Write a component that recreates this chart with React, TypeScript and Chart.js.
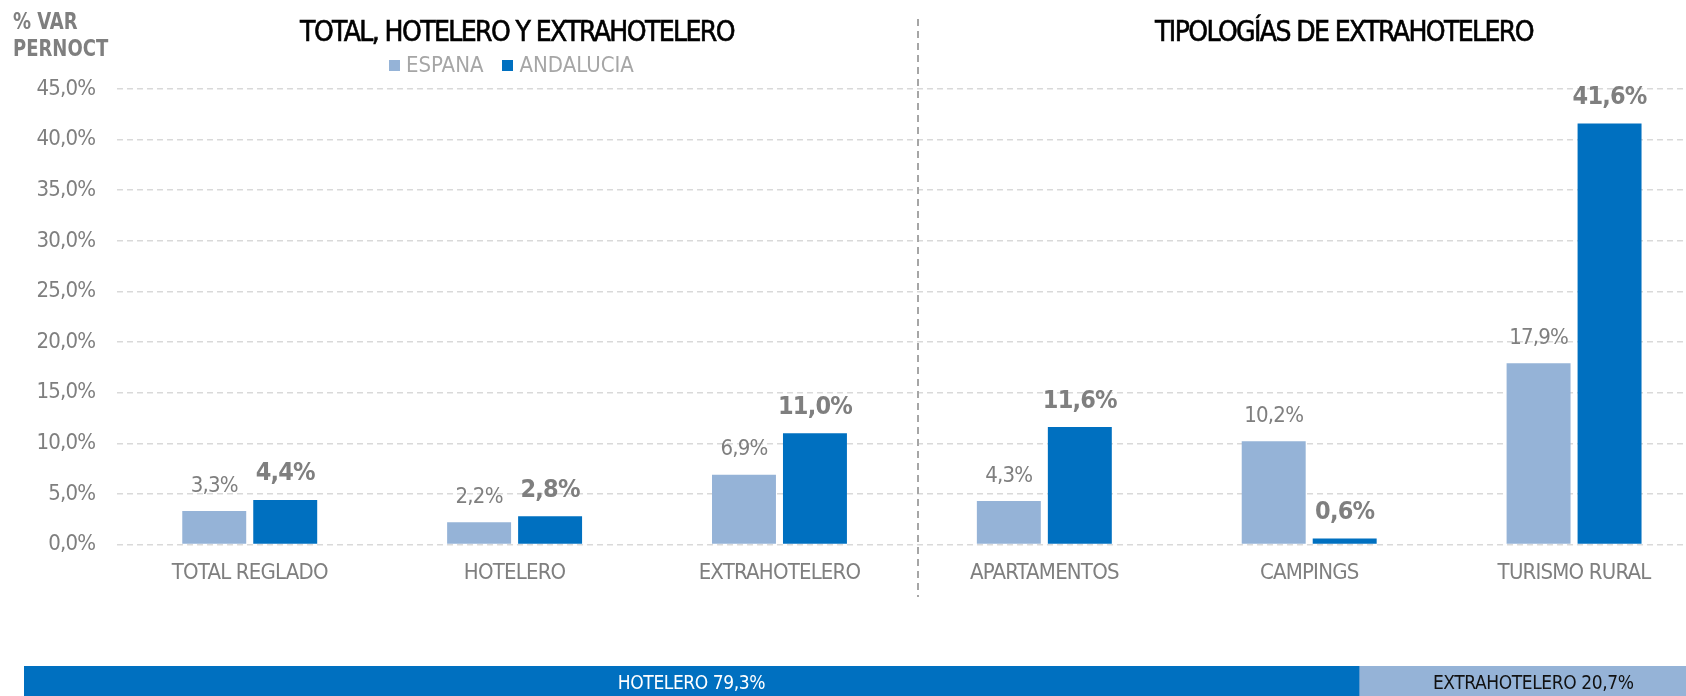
import React, { useEffect, useRef } from "react";
import { Chart, registerables } from "chart.js";

Chart.register(...registerables);

const categories = ["TOTAL REGLADO", "HOTELERO", "EXTRAHOTELERO", "APARTAMENTOS", "CAMPINGS", "TURISMO RURAL"];
const espana = [3.3, 2.2, 6.9, 4.3, 10.2, 17.9];
const andalucia = [4.4, 2.8, 11.0, 11.6, 0.6, 41.6];
const seriesNames = ["ESPANA", "ANDALUCIA"];
const yMin = 0;
const yMax = 45;
const yStep = 5;
const shareLabels = ["HOTELERO", "EXTRAHOTELERO"];
const shareValues = [79.3, 20.7];

const LIGHT = "#95B3D7";
const DARK = "#0070C0";
const GRAY = "#7F7F7F";
const NARROW = "'Liberation Sans Narrow', 'DejaVu Sans Condensed', 'Arial Narrow', sans-serif";

const fmt = (v: number) => v.toFixed(1).replace(".", ",") + "%";

const tightText = {
  id: "tightText",
  beforeDraw(chart: any) {
    (chart.ctx as any).letterSpacing = "-0.8px";
  },
  afterDraw(chart: any) {
    (chart.ctx as any).letterSpacing = "0px";
  },
};

const valueLabels = {
  id: "valueLabels",
  afterDatasetsDraw(chart: any) {
    const ctx = chart.ctx;
    ctx.save();
    ctx.textAlign = "center";
    ctx.textBaseline = "middle";
    chart.data.datasets.forEach((ds: any, di: number) => {
      const meta = chart.getDatasetMeta(di);
      ctx.font = di === 1 ? "bold 25px " + NARROW : "22px " + NARROW;
      ctx.fillStyle = GRAY;
      meta.data.forEach((el: any, i: number) => {
        ctx.fillText(fmt(ds.data[i]), el.x, el.y - (di === 1 ? 26 : 25));
      });
    });
    ctx.restore();
  },
};

const divider = {
  id: "divider",
  beforeDatasetsDraw(chart: any) {
    const ctx = chart.ctx;
    ctx.save();
    ctx.strokeStyle = "#A6A6A6";
    ctx.lineWidth = 2;
    ctx.setLineDash([7, 5]);
    ctx.beginPath();
    ctx.moveTo(918, 19);
    ctx.lineTo(918, 597);
    ctx.stroke();
    ctx.restore();
  },
};

const shareText = {
  id: "shareText",
  afterDatasetsDraw(chart: any) {
    const ctx = chart.ctx;
    ctx.save();
    (ctx as any).letterSpacing = "-0.4px";
    ctx.textAlign = "center";
    ctx.textBaseline = "middle";
    ctx.font = "19px " + NARROW;
    chart.data.datasets.forEach((ds: any, di: number) => {
      const el = chart.getDatasetMeta(di).data[0];
      ctx.fillStyle = di === 0 ? "#FFFFFF" : "#111111";
      ctx.fillText(ds.label + " " + fmt(ds.data[0]), (el.x + el.base) / 2, 18);
    });
    (ctx as any).letterSpacing = "0px";
    ctx.restore();
  },
};

export default function App() {
  const mainRef = useRef<HTMLCanvasElement>(null);
  const shareRef = useRef<HTMLCanvasElement>(null);

  useEffect(() => {
    document.body.style.margin = "0";
    const c1 = new Chart(mainRef.current!, {
      type: "bar",
      data: {
        labels: categories,
        datasets: [
          { label: seriesNames[0], data: espana, backgroundColor: LIGHT, categoryPercentage: 0.536, barPercentage: 0.901 },
          { label: seriesNames[1], data: andalucia, backgroundColor: DARK, categoryPercentage: 0.536, barPercentage: 0.901 },
        ],
      },
      options: {
        animation: false,
        responsive: false,
        devicePixelRatio: 1,
        layout: { padding: { left: 0, right: 23.5, top: 89, bottom: 0 } },
        plugins: { legend: { display: false }, tooltip: { enabled: false } },
        scales: {
          x: {
            grid: { display: false, drawTicks: false },
            border: { display: false },
            ticks: { color: GRAY, font: { family: NARROW, size: 22 }, padding: 16, maxRotation: 0, autoSkip: false },
            afterFit: (s: any) => { s.height = 75.5; },
          },
          y: {
            min: yMin,
            max: yMax,
            grid: { color: "#D9D9D9", lineWidth: 1.5, drawTicks: false },
            border: { display: false, dash: [6, 4] },
            ticks: { stepSize: yStep, color: GRAY, font: { family: NARROW, size: 22 }, padding: 22, callback: (v: any) => fmt(Number(v)) },
            afterFit: (s: any) => { s.width = 117.3; },
          },
        },
      },
      plugins: [tightText, divider, valueLabels],
    });
    const c2 = new Chart(shareRef.current!, {
      type: "bar",
      data: {
        labels: [""],
        datasets: [
          { label: shareLabels[0], data: [shareValues[0]], backgroundColor: DARK, barPercentage: 1, categoryPercentage: 1 },
          { label: shareLabels[1], data: [shareValues[1]], backgroundColor: LIGHT, barPercentage: 1, categoryPercentage: 1 },
        ],
      },
      options: {
        indexAxis: "y",
        animation: false,
        responsive: false,
        devicePixelRatio: 1,
        layout: { padding: { left: 24, right: 22.5, top: 0, bottom: 0 } },
        plugins: { legend: { display: false }, tooltip: { enabled: false } },
        scales: {
          x: { stacked: true, min: 0, max: 100, display: false },
          y: { stacked: true, display: false },
        },
      },
      plugins: [shareText],
    });
    return () => { c1.destroy(); c2.destroy(); };
  }, []);

  const titleStyle: React.CSSProperties = {
    position: "absolute", top: 16, transform: "translateX(-50%)", whiteSpace: "nowrap",
    fontFamily: "'DejaVu Sans Condensed', sans-serif", fontSize: 28, color: "#000", letterSpacing: -1.6, lineHeight: "32px",
    WebkitTextStroke: "0.6px #000",
  };
  const legendText: React.CSSProperties = { fontFamily: NARROW, fontSize: 22, color: "#A6A6A6" };

  return (
    <div style={{ position: "relative", width: 1686, height: 696, overflow: "hidden", background: "#fff" }}>
      <canvas ref={mainRef} width={1730} height={620} style={{ position: "absolute", left: 0, top: 0 }} />
      <canvas ref={shareRef} width={1730} height={40} style={{ position: "absolute", left: 0, top: 666 }} />
      <div style={{ position: "absolute", left: 13, top: 8, fontFamily: NARROW, fontWeight: "bold", fontSize: 23, color: GRAY, lineHeight: "27px", transform: "scaleX(0.87)", transformOrigin: "left top", whiteSpace: "nowrap" }}>
        % VAR<br />PERNOCT
      </div>
      <div style={{ ...titleStyle, left: 517 }}>TOTAL, HOTELERO Y EXTRAHOTELERO</div>
      <div style={{ ...titleStyle, left: 1344 }}>TIPOLOGÍAS DE EXTRAHOTELERO</div>
      <div style={{ position: "absolute", left: 389, top: 52, display: "flex", alignItems: "center", whiteSpace: "nowrap", lineHeight: "26px" }}>
        <span style={{ width: 11, height: 11, background: LIGHT, display: "inline-block", marginRight: 6 }} />
        <span style={legendText}>{seriesNames[0]}</span>
        <span style={{ width: 11, height: 11, background: DARK, display: "inline-block", marginLeft: 19, marginRight: 6 }} />
        <span style={legendText}>{seriesNames[1]}</span>
      </div>
    </div>
  );
}
